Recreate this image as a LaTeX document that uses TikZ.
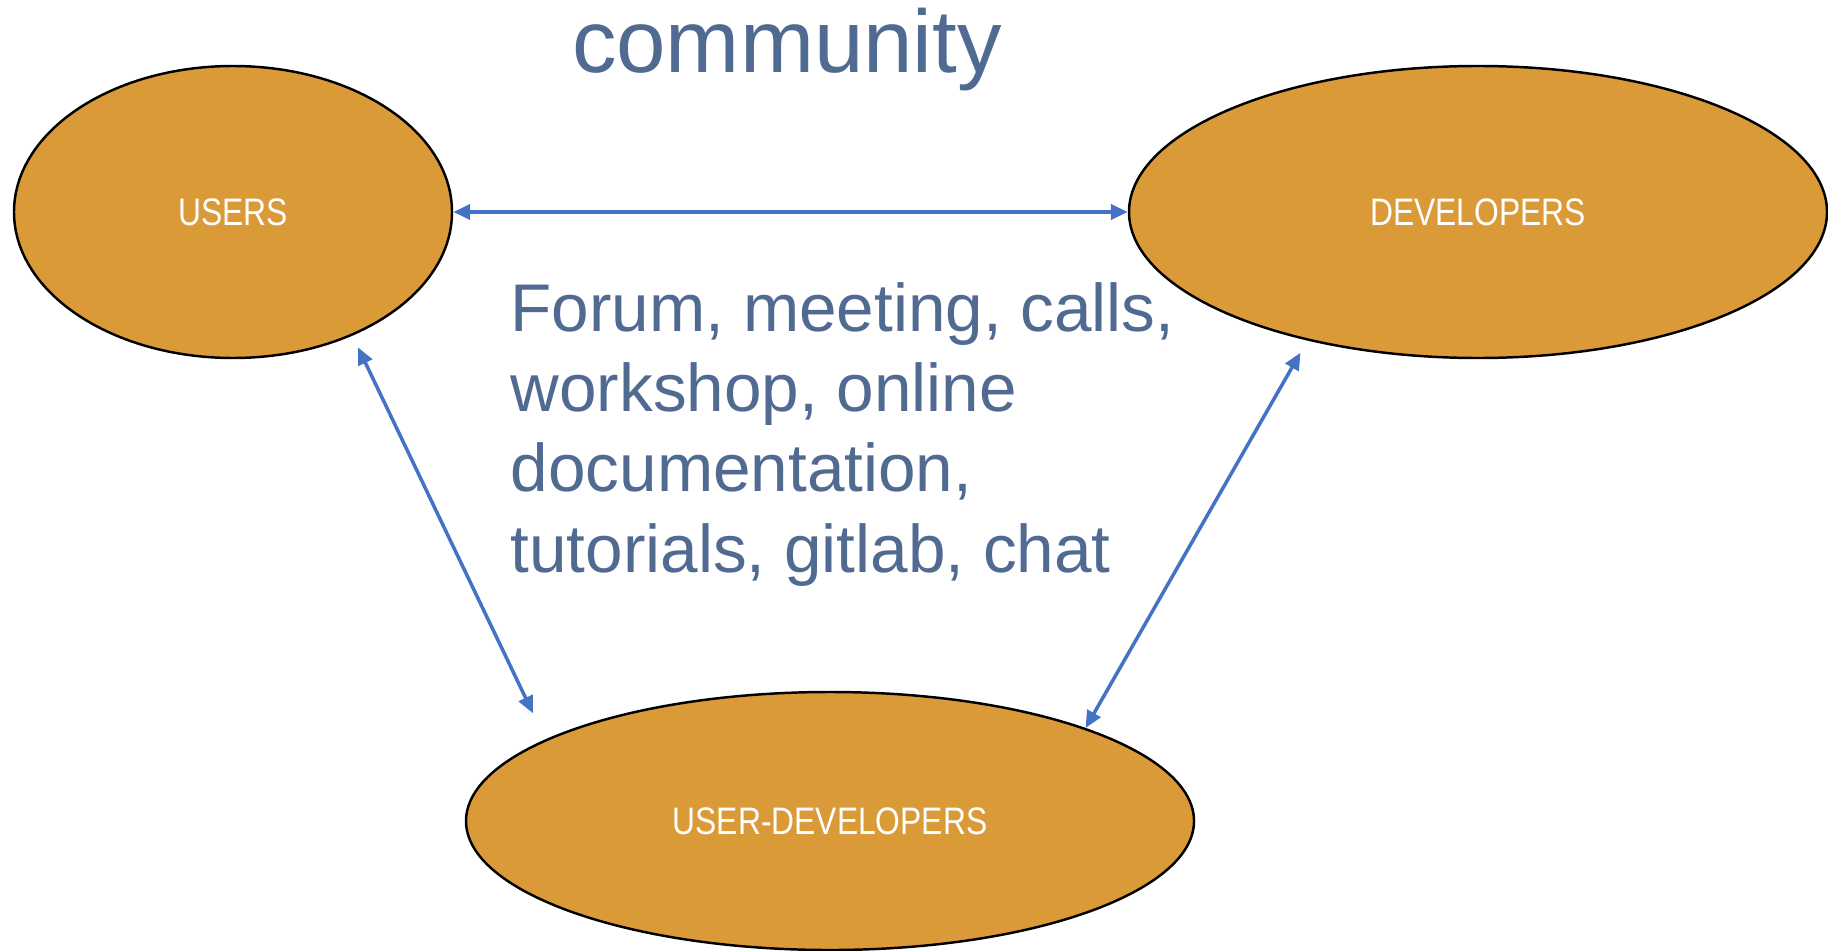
\documentclass[tikz,border=0pt]{standalone}
\usepackage{fontspec}
\setmainfont{Liberation Sans}
\newfontfamily\rolefont[FakeStretch=0.83]{Liberation Sans}
\usetikzlibrary{arrows.meta,shapes.geometric}
\definecolor{role}{HTML}{DA9A37}
\definecolor{slate}{HTML}{506A92}
\definecolor{link}{HTML}{4472C4}

\begin{document}
\begin{tikzpicture}[>={Triangle[length=1.7mm,width=1.5mm]},
  r/.style={ellipse, draw=black, line width=0.7pt, fill=role, inner sep=0pt, text=white, font=\rolefont\fontsize{10.9}{12}\selectfont},
  l/.style={<->, draw=link, line width=1pt}]
\useasboundingbox (0,0) rectangle (18.28,-9.5);
\node[text=slate, font=\fontsize{25.3}{30}\selectfont, anchor=base] (title) at (7.87,-0.73) {community};
% the three groups
\node[r, minimum width=4.38cm, minimum height=2.92cm] (users) at (2.33,-2.12) {USERS};
\node[r, minimum width=6.98cm, minimum height=2.92cm] (devs) at (14.78,-2.12) {DEVELOPERS};
\node[r, minimum width=7.28cm, minimum height=2.58cm] (userdevs) at (8.30,-8.21) {USER-DEVELOPERS};
% channels between them
\draw[l, line width=1.3pt] (users.east) -- (devs.west);
\draw[l, shorten <=0.13cm, shorten >=0.29cm] (users.-46.5) -- (userdevs.164);
\draw[l, shorten <=0.14cm] (devs.217.4) -- (userdevs.20);
% base of the last line
\node[text=slate, font=\fontsize{19.2}{22.8}\selectfont, align=left, inner sep=0pt, anchor=base west] (media) at (5.10,-5.72) {Forum, meeting, calls,\\workshop, online\\documentation,\\tutorials, gitlab, chat};
\end{tikzpicture}
\end{document}
